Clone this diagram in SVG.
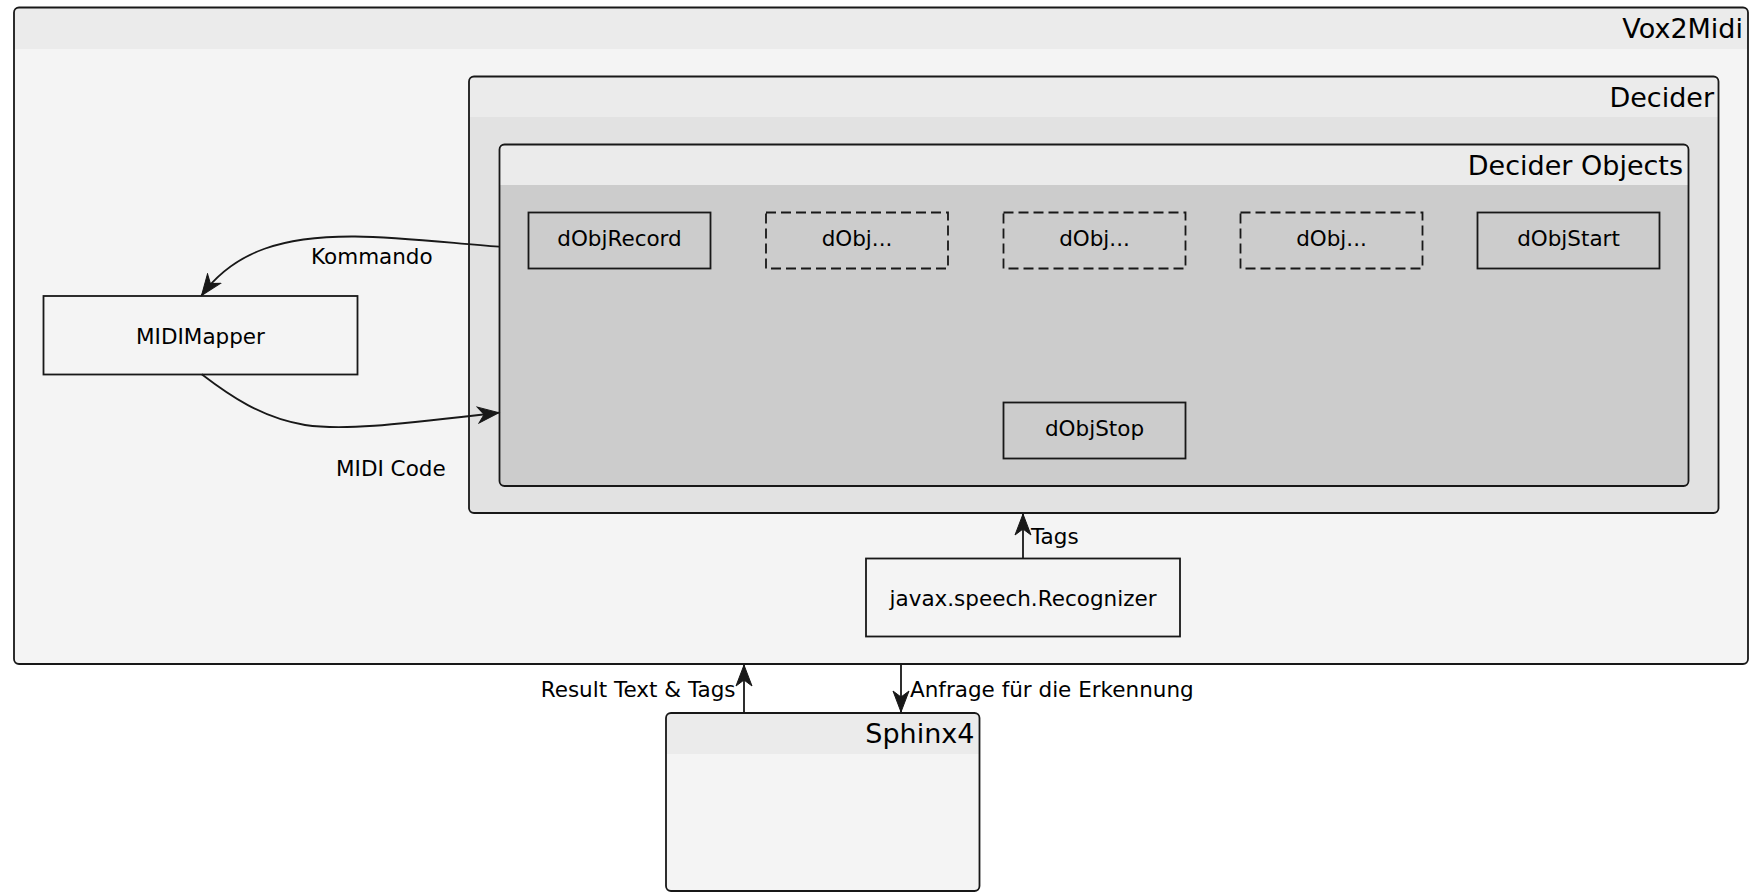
<svg xmlns="http://www.w3.org/2000/svg" width="1756" height="893" viewBox="0 0 1756 893">
<style>
.frame{stroke:#181818;stroke-width:1.8;fill:none}
.hdr{fill:#EBEBEB;stroke:none}
.box{stroke:#181818;stroke-width:1.8}
.dash{stroke:#181818;stroke-width:1.8;stroke-dasharray:10,5;fill:none}
.title{font-family:"DejaVu Sans",sans-serif;font-size:27px;fill:#000;text-anchor:end}
.lbl{font-family:"DejaVu Sans",sans-serif;font-size:21.5px;fill:#000}
.c{text-anchor:middle}
.e{text-anchor:end}
.conn{stroke:#181818;stroke-width:1.8;fill:none}
</style>
<defs>
<marker id="ah" markerUnits="userSpaceOnUse" viewBox="-22 -10 24 20" refX="0" refY="0" markerWidth="24" markerHeight="20" orient="auto">
<path d="M0,0 L-21,-8 L-15,0 L-21,8 Z" fill="#181818" stroke="#181818" stroke-width="1" stroke-linejoin="miter"/>
</marker>
</defs>
<rect width="1756" height="893" fill="#FFFFFF"/>

<g id="vox2midi">
<rect x="14" y="7.5" width="1734" height="656.5" rx="5" fill="#F4F4F4"/>
<path class="hdr" d="M14,49 V12.5 A5,5 0 0 1 19,7.5 H1743 A5,5 0 0 1 1748,12.5 V49 Z"/>
<rect class="frame" x="14" y="7.5" width="1734" height="656.5" rx="5"/>
<text class="title" x="1743" y="37.5">Vox2Midi</text>
</g>

<g id="decider">
<rect x="469" y="76.5" width="1249.5" height="436.5" rx="5" fill="#E2E2E2"/>
<path class="hdr" d="M469,117 V81.5 A5,5 0 0 1 474,76.5 H1713.5 A5,5 0 0 1 1718.5,81.5 V117 Z"/>
<rect class="frame" x="469" y="76.5" width="1249.5" height="436.5" rx="5"/>
<text class="title" x="1714" y="106.5">Decider</text>
</g>

<g id="decider-objects">
<rect x="499.5" y="144.5" width="1189" height="341.5" rx="5" fill="#CCCCCC"/>
<path class="hdr" d="M499.5,185 V149.5 A5,5 0 0 1 504.5,144.5 H1683.5 A5,5 0 0 1 1688.5,149.5 V185 Z"/>
<rect class="frame" x="499.5" y="144.5" width="1189" height="341.5" rx="5"/>
<text class="title" x="1683" y="175">Decider Objects</text>
</g>

<g id="dObjRecord">
<rect class="box" x="528.5" y="212.5" width="182" height="56" fill="none"/>
<text class="lbl c" x="619.5" y="246">dObjRecord</text>
</g>
<g id="dObj1">
<rect class="dash" x="766" y="212.5" width="182" height="56"/>
<text class="lbl c" x="857" y="246">dObj...</text>
</g>
<g id="dObj2">
<rect class="dash" x="1003.5" y="212.5" width="182" height="56"/>
<text class="lbl c" x="1094.5" y="246">dObj...</text>
</g>
<g id="dObj3">
<rect class="dash" x="1240.5" y="212.5" width="182" height="56"/>
<text class="lbl c" x="1331.5" y="246">dObj...</text>
</g>
<g id="dObjStart">
<rect class="box" x="1477.5" y="212.5" width="182" height="56" fill="none"/>
<text class="lbl c" x="1568.5" y="246">dObjStart</text>
</g>
<g id="dObjStop">
<rect class="box" x="1003.5" y="402.5" width="182" height="56" fill="none"/>
<text class="lbl c" x="1094.5" y="436">dObjStop</text>
</g>

<g id="midimapper">
<rect class="box" x="43.5" y="296" width="314" height="78.5" fill="#F4F4F4"/>
<text class="lbl c" x="200.5" y="344">MIDIMapper</text>
</g>

<g id="recognizer">
<rect class="box" x="866" y="558.5" width="314" height="78" fill="#F4F4F4"/>
<text class="lbl c" x="1023" y="606">javax.speech.Recognizer</text>
</g>

<g id="sphinx4">
<rect x="666" y="713" width="313.5" height="178" rx="5" fill="#F4F4F4"/>
<path class="hdr" d="M666,754 V718 A5,5 0 0 1 671,713 H974.5 A5,5 0 0 1 979.5,718 V754 Z"/>
<rect class="frame" x="666" y="713" width="313.5" height="178" rx="5"/>
<text class="title" x="974.5" y="743">Sphinx4</text>
</g>

<g id="connectors">
<path class="conn" marker-end="url(#ah)" d="M499,246.7 C450,243 400,237 355,236.5 C285,236 235,250 201.5,295.5"/>
<text class="lbl" x="311" y="264">Kommando</text>
<path class="conn" marker-end="url(#ah)" d="M201.7,374.3 C230,396 262,418 305,425 C345,431 400,424 499,412.7"/>
<text class="lbl" x="336" y="476">MIDI Code</text>
<path class="conn" marker-end="url(#ah)" d="M1023,558.5 V514"/>
<text class="lbl" x="1031" y="544">Tags</text>
<path class="conn" marker-end="url(#ah)" d="M744,713 V665"/>
<text class="lbl e" x="735.5" y="697">Result Text &amp; Tags</text>
<path class="conn" marker-end="url(#ah)" d="M901,664 V712"/>
<text class="lbl" x="910" y="697">Anfrage für die Erkennung</text>
</g>
</svg>
